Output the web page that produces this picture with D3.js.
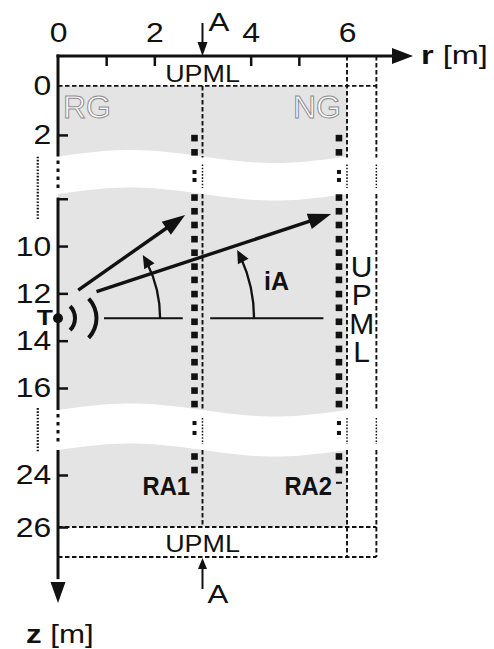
<!DOCTYPE html>
<html>
<head>
<meta charset="utf-8">
<script src="https://cdn.jsdelivr.net/npm/d3@7"></script>
<style>
  html, body { margin: 0; padding: 0; background: #fff; }
  svg { display: block; }
</style>
</head>
<body>
<svg id="chart" width="494" height="649"></svg>
<script>
// ---- model geometry (r and z in metres) ----
const rTicks = [1, 2, 4, 5];
const rTickLabels = [0, 2, 4, 6];
const zTicks = [2, 8, 10, 12, 14, 16, 24, 26];
const zTickLabels = [0, 2, 10, 12, 14, 16, 24, 26];

// depth sections of the model that are drawn (the rest is cut out)
const bands = [[0, 2.88], [7.8, 16.93], [23.04, 26]];
const pmlTop = -1.22;      // upper UPML edge
const pmlBottom = 27.15;   // lower UPML edge
const modelR = 6;          // radial extent of the model
const pmlR = 6.61;         // outer edge of the radial UPML
const sectionR = 3;        // cross-section A-A

// receiver arrays
const arrays = [
  { name: "RA1", r: 2.834 },
  { name: "RA2", r: 5.833 }
];
const receiverZ = [2.13, 2.71,
  7.95, 8.53, 9.11, 9.71, 10.28, 10.87, 11.43, 12.03, 12.61, 13.2, 13.76, 14.35, 14.91, 15.52, 16.11, 16.68,
  23.29, 23.81];
const skippedReceiverZ = [4.91, 5.96, 18.92, 20.44];
const ra2EndMarkZ = 24.3;

// transmitter, rays and incidence angles
const source = { r: 0, z: 13.05 };
const rays = [
  { r0: 0.42, z0: 11.86, r1: 2.64, z1: 8.69 },
  { r0: 0.80, z0: 11.93, r1: 5.67, z1: 8.65 }
];
const refLines = [[0.955, 2.59], [3.16, 5.51]];
const angleArcs = [
  { r0: 2.12, r1: 1.76, z1: 10.38 },
  { r0: 4.07, r1: 3.72, z1: 10.17 }
];

// ---- drawing ----
const svg = d3.select("#chart");
const FONT = "'Liberation Sans', Arial, Helvetica, sans-serif";
const GREY = "#e4e4e4";
const INK = "#111";

const x = d3.scaleLinear().domain([0, modelR]).range([58, 347]);
// broken depth axis: each drawn section keeps its own scale, the gaps are squeezed
const z = d3.scaleLinear()
  .domain([pmlTop, bands[0][1], bands[1][0], bands[1][1], bands[2][0], pmlBottom])
  .range([56, 156.5, 194, 410, 450, 557]);

const WAVE = 6.5;
const rc = r => Math.min(Math.max(r, 0), modelR);
const edge = (r, zv) => z(zv) - WAVE * Math.sin(2 * Math.PI * rc(r) / modelR);

function head(tx, ty, ang, len, hw) {
  const bx = tx - len * Math.cos(ang), by = ty - len * Math.sin(ang);
  const nx = -Math.sin(ang) * hw, ny = Math.cos(ang) * hw;
  return `M${tx},${ty}L${bx + nx},${by + ny}L${bx - nx},${by - ny}Z`;
}

// text helper; sx widens the glyphs horizontally around the anchor point
function txt(tx, ty, s, size, opts = {}) {
  const g = svg.append("g").attr("transform", `translate(${tx},${ty}) scale(${opts.sx || 1},1)`);
  const t = g.append("text").attr("font-family", FONT).attr("font-size", size)
    .attr("fill", opts.fill || INK).attr("font-weight", opts.bold ? "bold" : null)
    .attr("text-anchor", opts.anchor || "start");
  if (s !== null) t.text(s);
  return t;
}

// grey model sections with wavy cut edges
const rs = d3.range(0, modelR + 1e-6, 0.05);
bands.forEach(([z0, z1], i) => {
  const topWavy = i > 0, botWavy = i < bands.length - 1;
  const top = rs.map(r => [x(r), topWavy ? edge(r, z0) : z(z0)]);
  const bot = rs.slice().reverse().map(r => [x(r), botWavy ? edge(r, z1) : z(z1)]);
  svg.append("path").attr("d", d3.line()(top.concat(bot)) + "Z").attr("fill", GREY);
});

// dashed boundaries
const gLines = svg.append("g").attr("fill", "none").attr("stroke", INK);
function dashed(x1, y1, x2, y2) {
  gLines.append("line").attr("x1", x1).attr("y1", y1).attr("x2", x2).attr("y2", y2)
    .attr("stroke-width", 1.9).attr("stroke-dasharray", "4.5,2.5");
}
function dotted(x1, y1, x2, y2, w) {
  gLines.append("line").attr("x1", x1).attr("y1", y1).attr("x2", x2).attr("y2", y2)
    .attr("stroke-width", w || 1.5).attr("stroke-dasharray", "1.6,1.6");
}
function brokenVertical(rv, zStart, zEnd) {
  const xv = x(rv);
  let cur = z(zStart);
  for (let g = 0; g < bands.length - 1; g++) {
    const yb = edge(rv, bands[g][1]), yt = edge(rv, bands[g + 1][0]);
    dashed(xv, cur, xv, yb + 1);
    dotted(xv, yb + 8, xv, yt - 6);
    cur = yt;
  }
  dashed(xv, cur, xv, z(zEnd));
}
[0, 26, pmlBottom].forEach(zv => dashed(x(0), z(zv), x(pmlR), z(zv)));
brokenVertical(sectionR, 0, 26);
brokenVertical(modelR, pmlTop, pmlBottom);
brokenVertical(pmlR, pmlTop, pmlBottom);

// break markers left of the depth axis
dotted(x(-0.42), z(2.9), x(-0.42), z(8.9), 2.2);
dotted(x(-0.42), z(16.85), x(-0.42), z(23.15), 2.2);

// receivers
const gRec = svg.append("g").attr("fill", INK);
arrays.forEach(a => {
  receiverZ.forEach(zv => gRec.append("rect")
    .attr("x", x(a.r) - 3.3).attr("y", z(zv) - 3.3).attr("width", 6.6).attr("height", 6.6));
  skippedReceiverZ.forEach(zv => gRec.append("rect")
    .attr("x", x(a.r) - 2).attr("y", z(zv) - 2).attr("width", 4).attr("height", 4));
});
gRec.append("rect").attr("x", x(arrays[1].r) - 3).attr("y", z(ra2EndMarkZ) - 1)
  .attr("width", 6).attr("height", 2);

// r axis
const yAx = z(pmlTop);
svg.append("line").attr("x1", x(0) - 1.5).attr("y1", yAx).attr("x2", x(7.0)).attr("y2", yAx)
  .attr("stroke", INK).attr("stroke-width", 3);
svg.append("path").attr("d", head(x(7.37), yAx, 0, 21, 8)).attr("fill", INK);
const axT = svg.append("g").attr("transform", `translate(0,${yAx})`)
  .call(d3.axisTop(x).tickValues(rTicks).tickSizeInner(-10).tickSizeOuter(0).tickFormat(""));
axT.select(".domain").remove();
axT.selectAll("line").attr("stroke", INK).attr("stroke-width", 2.5);
const axTL = svg.append("g").attr("transform", `translate(0,${yAx})`)
  .call(d3.axisTop(x).tickValues(rTickLabels).tickSize(0).tickPadding(14).tickFormat(d3.format("d")));
axTL.select(".domain").remove();
axTL.selectAll("text").attr("font-family", FONT).attr("font-size", 28).attr("fill", INK)
  .attr("transform", "scale(1.14,1)");

txt(421, 64, null, 25, { sx: 1.3 }).call(t => {
  t.append("tspan").attr("font-weight", "bold").text("r");
  t.append("tspan").text(" [m]");
});

// z axis (broken)
const xAx = x(0);
const zSolid = [[pmlTop, bands[0][1]], [7.95, bands[1][1]], [bands[2][0], 28.0]];
zSolid.forEach(([a, b], i) => {
  const y1 = i === 0 ? z(a) - 1.5 : (i === 1 ? z(a) : edge(0, a));
  const y2 = i === 2 ? z(b) : edge(0, b);
  svg.append("line").attr("x1", xAx).attr("y1", y1).attr("x2", xAx).attr("y2", y2)
    .attr("stroke", INK).attr("stroke-width", 3);
});
[[bands[0][1], bands[1][0]], [bands[1][1], bands[2][0]]].forEach(([a, b]) => {
  svg.append("line").attr("x1", xAx).attr("y1", edge(0, a) + 4).attr("x2", xAx).attr("y2", edge(0, b) - 4)
    .attr("stroke", INK).attr("stroke-width", 3).attr("stroke-dasharray", "3.5,4.5");
});
svg.append("path").attr("d", head(xAx, z(28.92), Math.PI / 2, 21, 7.5)).attr("fill", INK);
const axL = svg.append("g").attr("transform", `translate(${xAx},0)`)
  .call(d3.axisLeft(z).tickValues(zTicks).tickSizeInner(-10).tickSizeOuter(0).tickFormat(""));
axL.select(".domain").remove();
axL.selectAll("line").attr("stroke", INK).attr("stroke-width", 2.5);
const axLL = svg.append("g").attr("transform", `translate(${xAx},0)`)
  .call(d3.axisLeft(z).tickValues(zTickLabels).tickSize(0).tickPadding(6).tickFormat(d3.format("d")));
axLL.select(".domain").remove();
axLL.selectAll("text").attr("font-family", FONT).attr("font-size", 28).attr("fill", INK)
  .attr("transform", "scale(1.14,1)");

txt(26, 643, null, 25, { sx: 1.25 }).call(t => {
  t.append("tspan").attr("font-weight", "bold").text("z");
  t.append("tspan").text(" [m]");
});

// section A-A markers
const xs = x(sectionR);
svg.append("line").attr("x1", xs).attr("y1", 23).attr("x2", xs).attr("y2", yAx - 10)
  .attr("stroke", INK).attr("stroke-width", 2);
svg.append("path").attr("d", head(xs, yAx, Math.PI / 2, 14, 5)).attr("fill", INK);
const yPb = z(pmlBottom);
svg.append("line").attr("x1", xs).attr("y1", yPb + 32).attr("x2", xs).attr("y2", yPb + 10)
  .attr("stroke", INK).attr("stroke-width", 2);
svg.append("path").attr("d", head(xs, yPb + 1, -Math.PI / 2, 11, 4.5)).attr("fill", INK);
txt(xs + 6, 31, "A", 25, { sx: 1.25 });
txt(xs + 5, 603, "A", 25, { sx: 1.25 });

// UPML labels
txt(xs, 82, "UPML", 24, { anchor: "middle", sx: 1.12 });
txt(xs, 552, "UPML", 24, { anchor: "middle", sx: 1.12 });
// vertical, upright letters inside the radial UPML strip
const xPml = (x(modelR) + x(pmlR)) / 2;
svg.append("text").attr("x", xPml).attr("y", 250)
  .attr("font-family", FONT).attr("font-size", 30).attr("fill", INK)
  .attr("letter-spacing", -4.6)
  .style("writing-mode", "vertical-rl").style("text-orientation", "upright")
  .text("UPML");

// region labels (outlined)
txt(63, 118, "RG", 32, { fill: "#fff" }).attr("stroke", "#8c8c8c").attr("stroke-width", 1);
txt(341, 118, "NG", 32, { fill: "#fff", anchor: "end" }).attr("stroke", "#8c8c8c").attr("stroke-width", 1);

// receiver array labels
txt(x(arrays[0].r) - 4.5, 495, "RA1", 25, { bold: true, anchor: "end", sx: 0.95 });
txt(x(arrays[1].r) - 7, 495, "RA2", 25, { bold: true, anchor: "end", sx: 0.95 });

// transmitter
const ys = z(source.z);
svg.append("circle").attr("cx", x(source.r)).attr("cy", ys).attr("r", 5).attr("fill", INK);
svg.append("path").attr("transform", `translate(${x(source.r)},${ys})`)
  .attr("d", d3.arc().innerRadius(15).outerRadius(19).startAngle(Math.PI / 2 - 0.78).endAngle(Math.PI / 2 + 0.78)())
  .attr("fill", INK);
svg.append("path").attr("transform", `translate(${x(source.r) + 10},${ys})`)
  .attr("d", d3.arc().innerRadius(26.5).outerRadius(30.5).startAngle(Math.PI / 2 - 0.76).endAngle(Math.PI / 2 + 0.76)())
  .attr("fill", INK);
txt(53, ys + 7, "T", 22, { bold: true, anchor: "end", sx: 1.2 });

// horizontal reference lines
refLines.forEach(([a, b]) => svg.append("line")
  .attr("x1", x(a)).attr("y1", ys).attr("x2", x(b)).attr("y2", ys)
  .attr("stroke", INK).attr("stroke-width", 2));

// rays
rays.forEach(d => {
  const x0 = x(d.r0), y0 = z(d.z0), x1 = x(d.r1), y1 = z(d.z1);
  const ang = Math.atan2(y1 - y0, x1 - x0);
  svg.append("line").attr("x1", x0).attr("y1", y0)
    .attr("x2", x1 - 16 * Math.cos(ang)).attr("y2", y1 - 16 * Math.sin(ang))
    .attr("stroke", INK).attr("stroke-width", 3.4);
  svg.append("path").attr("d", head(x1, y1, ang, 23, 8)).attr("fill", INK);
});

// incidence angle arcs
angleArcs.forEach(d => {
  const sx = x(d.r0), sy = ys, ex = x(d.r1), ey = z(d.z1);
  const cx = (sx * sx - ex * ex - (ey - sy) * (ey - sy)) / (2 * (sx - ex));
  const R = sx - cx;
  const th = Math.atan2(ey - sy, ex - cx);
  const tang = Math.atan2(-Math.cos(th), Math.sin(th));
  const stop = th + 9 / R;
  const px = cx + R * Math.cos(stop), py = sy + R * Math.sin(stop);
  svg.append("path").attr("d", `M${sx},${sy}A${R},${R} 0 0 0 ${px},${py}`)
    .attr("fill", "none").attr("stroke", INK).attr("stroke-width", 2.3);
  svg.append("path").attr("d", head(ex, ey, tang, 13, 6)).attr("fill", INK);
});
txt(264, 290, "iA", 25, { bold: true });
</script>
</body>
</html>
